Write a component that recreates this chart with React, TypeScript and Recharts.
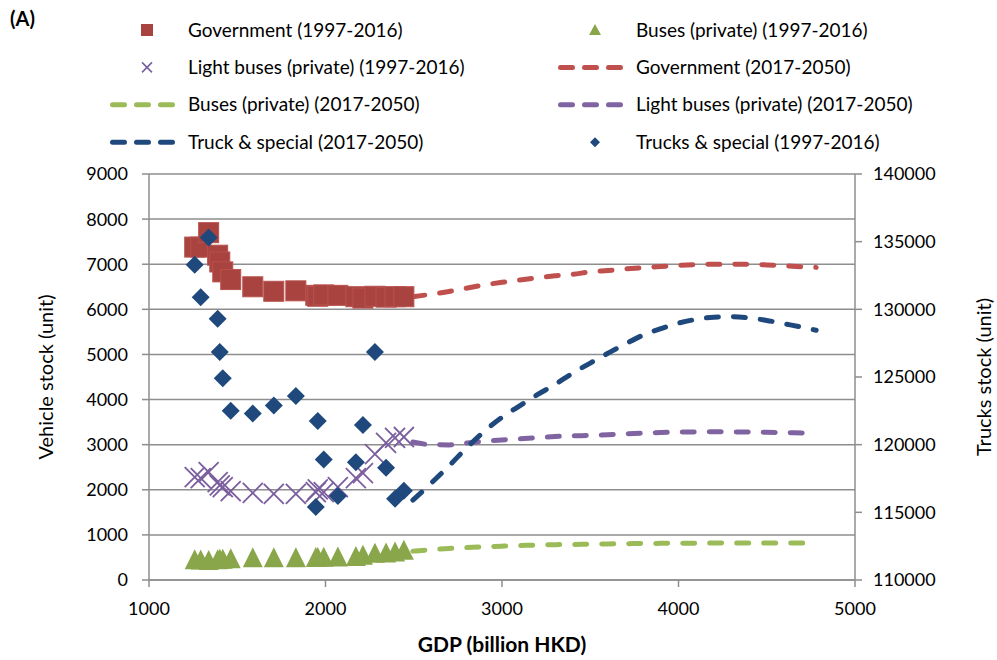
import { ComposedChart, Scatter, Line, XAxis, YAxis, CartesianGrid, Legend } from "recharts";

const FONT = "Lato, 'Open Sans', sans-serif";
const GRID = "#8e8e8e";

// 1997-2016 observations (x = GDP, billion HKD)
const gdpHist = [1259, 1293, 1338, 1389, 1401, 1418, 1463, 1588, 1707, 1832, 1945, 1956, 1990, 2070, 2172, 2212, 2280, 2343, 2394, 2444];
const governmentHist = [7380, 7380, 7700, 7200, 7050, 6830, 6660, 6500, 6400, 6410, 6310, 6290, 6320, 6310, 6280, 6250, 6290, 6270, 6280, 6280];
const busesHist = [440, 430, 420, 440, 450, 450, 460, 480, 480, 480, 490, 490, 495, 500, 510, 540, 580, 590, 610, 650];
const lightBusesHist = [2280, 2260, 2390, 2170, 2100, 2060, 1970, 1930, 1910, 1910, 1950, 2010, 1950, 2060, 2260, 2370, 2790, 3040, 3150, 3170];
const trucksHist = [133300, 130900, 135300, 129300, 126850, 124900, 122500, 122300, 122900, 123600, 115400, 121750, 118900, 116200, 118700, 121450, 126850, 118300, 116000, 116600];

// 2017-2050 projections
const gdpProj = [2495, 2600, 2700, 2800, 2900, 3000, 3100, 3200, 3300, 3400, 3500, 3600, 3700, 3800, 3900, 4000, 4100, 4200, 4300, 4400, 4500, 4600, 4700, 4780];
const governmentProj = [6280, 6335, 6395, 6470, 6540, 6600, 6650, 6700, 6745, 6775, 6830, 6860, 6895, 6925, 6950, 6975, 6990, 7000, 7000, 6998, 6985, 6965, 6945, 6930];
const busesProj = [640, 673, 700, 718, 735, 750, 763, 775, 783, 788, 793, 799, 805, 809, 812, 815, 817, 818, 819, 819, 819, 819, 818, 818];
const lightBusesProj = [3060, 3000, 2995, 3035, 3075, 3105, 3130, 3155, 3180, 3195, 3205, 3220, 3240, 3255, 3270, 3278, 3282, 3284, 3283, 3280, 3275, 3268, 3258, 3250];
const trucksProj = [115900, 117170, 118440, 119770, 120990, 122020, 122870, 123690, 124450, 125280, 126030, 126750, 127450, 128100, 128570, 128980, 129260, 129420, 129460, 129370, 129180, 128930, 128680, 128450];

const leftTicks = [0, 1000, 2000, 3000, 4000, 5000, 6000, 7000, 8000, 9000];
const rightTicks = [110000, 115000, 120000, 125000, 130000, 135000, 140000];
const xTicks = [1000, 2000, 3000, 4000, 5000];

const toRows = (xs: number[], ys: number[]) => xs.map((gdp, i) => ({ gdp, value: ys[i] }));

const legendItems = [
  { label: "Government (1997-2016)", kind: "square", color: "#a8433f" },
  { label: "Buses (private) (1997-2016)", kind: "triangle", color: "#8aa64b" },
  { label: "Light buses (private) (1997-2016)", kind: "cross", color: "#7b5e9e" },
  { label: "Government (2017-2050)", kind: "dash", color: "#c0504d" },
  { label: "Buses (private) (2017-2050)", kind: "dash", color: "#9bbb59" },
  { label: "Light buses (private) (2017-2050)", kind: "dash", color: "#8064a2" },
  { label: "Truck & special (2017-2050)", kind: "dash", color: "#1f497d" },
  { label: "Trucks & special (1997-2016)", kind: "diamond", color: "#1f497d" },
];

const Square = (p: any) => (
  <rect x={p.cx - 10} y={p.cy - 10} width={20} height={20} fill="#a8433f" stroke="#b9524e" strokeWidth={1} />
);
const Triangle = (p: any) => (
  <polygon points={`${p.cx},${p.cy - 11} ${p.cx + 10},${p.cy + 9} ${p.cx - 10},${p.cy + 9}`} fill="#8aa64b" />
);
const Cross = (p: any) => (
  <g stroke="#7b5e9e" strokeWidth={1.8}>
    <line x1={p.cx - 10} y1={p.cy - 10} x2={p.cx + 10} y2={p.cy + 10} />
    <line x1={p.cx - 10} y1={p.cy + 10} x2={p.cx + 10} y2={p.cy - 10} />
  </g>
);
const Diamond = (p: any) => (
  <polygon points={`${p.cx},${p.cy - 9} ${p.cx + 9},${p.cy} ${p.cx},${p.cy + 9} ${p.cx - 9},${p.cy}`} fill="#1f497d" />
);

function LegendMarker({ kind, color, cx, cy }: any) {
  if (kind === "square") return <rect x={cx - 6} y={cy - 6} width={12} height={12} fill={color} />;
  if (kind === "triangle") return <polygon points={`${cx},${cy - 6} ${cx + 6},${cy + 5} ${cx - 6},${cy + 5}`} fill={color} />;
  if (kind === "diamond") return <polygon points={`${cx},${cy - 5} ${cx + 5},${cy} ${cx},${cy + 5} ${cx - 5},${cy}`} fill={color} />;
  if (kind === "cross")
    return (
      <g stroke={color} strokeWidth={1.6}>
        <line x1={cx - 5} y1={cy - 5} x2={cx + 5} y2={cy + 5} />
        <line x1={cx - 5} y1={cy + 5} x2={cx + 5} y2={cy - 5} />
      </g>
    );
  return (
    <line x1={cx - 30} y1={cy} x2={cx + 30} y2={cy} stroke={color} strokeWidth={5} strokeDasharray="12 12" strokeLinecap="round" />
  );
}

function renderLegend() {
  return (
    <svg width={997} height={160} style={{ fontFamily: FONT }}>
      <text x={10} y={26} fontSize={20} fontWeight="bold" fill="#000">(A)</text>
      {legendItems.map((item, i) => {
        const col = i % 2;
        const row = Math.floor(i / 2);
        const cy = 30 + row * 37.4;
        const markerX = item.kind === "dash" ? (col ? 590.5 : 142.5) : col ? 595 : 147;
        const textX = col ? 636 : 188;
        return (
          <g key={item.label}>
            <LegendMarker kind={item.kind} color={item.color} cx={markerX} cy={cy} />
            <text x={textX} y={cy} dy="0.35em" fontSize={19} fill="#000">{item.label}</text>
          </g>
        );
      })}
    </svg>
  );
}

function VerticalTitle({ viewBox, text, dx }: any) {
  const cx = viewBox.x + dx;
  const cy = viewBox.y + viewBox.height / 2;
  return (
    <text x={cx} y={cy} transform={`rotate(-90 ${cx} ${cy})`} textAnchor="middle" dominantBaseline="central" fontSize={20} fontFamily={FONT} fill="#000">
      {text}
    </text>
  );
}

const tickStyle = { fontSize: 18, fontFamily: FONT, fill: "#000" };
const lineStyle = { stroke: GRID, strokeWidth: 1.5 };

export default function App() {
  return (
    <div style={{ position: "absolute", left: 0, top: 0, background: "#fff" }}>
      <ComposedChart width={997} height={660} margin={{ top: 174, right: 0, bottom: 0, left: 0 }}>
        <CartesianGrid yAxisId="left" vertical={false} stroke={GRID} strokeWidth={1.5} />
        <XAxis
          type="number"
          dataKey="gdp"
          domain={[1000, 5000]}
          ticks={xTicks}
          height={80}
          tick={tickStyle}
          tickSize={7}
          tickMargin={15}
          axisLine={lineStyle}
          tickLine={lineStyle}
          label={{ value: "GDP (billion HKD)", position: "insideBottom", offset: 8, fontSize: 21, fontWeight: "bold", fontFamily: FONT, fill: "#000" }}
        />
        <YAxis
          yAxisId="left"
          domain={[0, 9000]}
          ticks={leftTicks}
          width={149}
          tick={tickStyle}
          tickSize={7}
          tickMargin={14}
          axisLine={lineStyle}
          tickLine={lineStyle}
          label={<VerticalTitle text="Vehicle stock (unit)" dx={45} />}
        />
        <YAxis
          yAxisId="right"
          orientation="right"
          domain={[110000, 140000]}
          ticks={rightTicks}
          width={142}
          tick={tickStyle}
          tickSize={7}
          tickMargin={11}
          axisLine={lineStyle}
          tickLine={lineStyle}
          label={<VerticalTitle text="Trucks stock (unit)" dx={128} />}
        />
        <Legend layout="horizontal" verticalAlign="middle" align="center" content={renderLegend} wrapperStyle={{ left: 0, top: 0, width: 997, height: 160 }} />

        <Line yAxisId="left" data={toRows(gdpProj, governmentProj)} dataKey="value" type="monotone" dot={false} stroke="#c0504d" strokeWidth={5} strokeDasharray="12 15" strokeLinecap="round" isAnimationActive={false} />
        <Line yAxisId="left" data={toRows(gdpProj, busesProj)} dataKey="value" type="monotone" dot={false} stroke="#9bbb59" strokeWidth={5} strokeDasharray="12 15" strokeLinecap="round" isAnimationActive={false} />
        <Line yAxisId="left" data={toRows(gdpProj, lightBusesProj)} dataKey="value" type="monotone" dot={false} stroke="#8064a2" strokeWidth={5} strokeDasharray="12 15" strokeLinecap="round" isAnimationActive={false} />
        <Line yAxisId="right" data={toRows(gdpProj, trucksProj)} dataKey="value" type="monotone" dot={false} stroke="#1f497d" strokeWidth={5} strokeDasharray="12 15" strokeLinecap="round" isAnimationActive={false} />

        <Scatter yAxisId="left" data={toRows(gdpHist, governmentHist)} dataKey="value" shape={Square} isAnimationActive={false} />
        <Scatter yAxisId="left" data={toRows(gdpHist, busesHist)} dataKey="value" shape={Triangle} isAnimationActive={false} />
        <Scatter yAxisId="left" data={toRows(gdpHist, lightBusesHist)} dataKey="value" shape={Cross} isAnimationActive={false} />
        <Scatter yAxisId="right" data={toRows(gdpHist, trucksHist)} dataKey="value" shape={Diamond} isAnimationActive={false} />
      </ComposedChart>
    </div>
  );
}
